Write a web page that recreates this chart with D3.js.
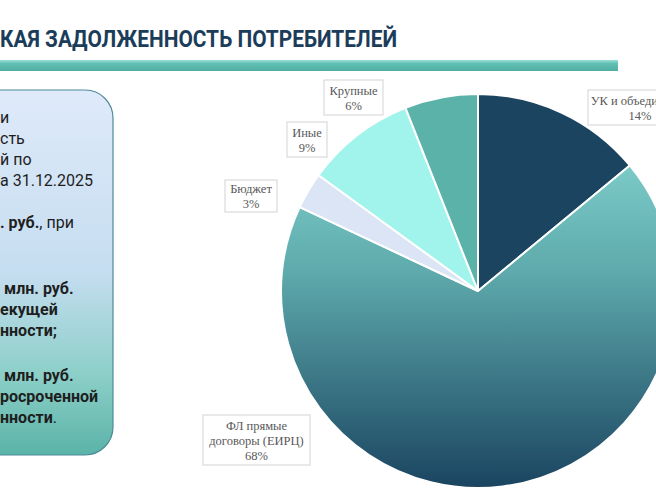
<!DOCTYPE html>
<html lang="ru">
<head>
<meta charset="UTF-8">
<script src="https://d3js.org/d3.v7.min.js"></script>
<title>Задолженность потребителей</title>
<style>
  body { margin: 0; background: #fff; }
</style>
</head>
<body>
<script>
// pie data, clockwise from 12 o'clock
var categories = ["УК и объединения", "ФЛ прямые договоры (ЕИРЦ)", "Бюджет", "Иные", "Крупные"];
var shares = [14, 68, 3, 9, 6];
var sliceColors = ["#1a4460", "url(#flGrad)", "#dce5f6", "#a0f4ec", "#5ab2a9"];

// label box text lines (visible part of each)
var labelLines = [
  ["УК и объединения", "14%"],
  ["ФЛ прямые", "договоры (ЕИРЦ)", "68%"],
  ["Бюджет", "3%"],
  ["Иные", "9%"],
  ["Крупные", "6%"]
];

// text in the left panel (slide is cropped, only line tails are visible)
// paragraphs -> lines -> [text, bold]
var panelParas = [
  [
    [["и", false]],
    [["сть", false]],
    [["й по", false]],
    [["а 31.12.2025", false]],
    [],
    [[". руб.", true], [", при", false]],
    []
  ],
  [
    [[" млн. руб.", true]],
    [["екущей", true]],
    [["нности;", true]]
  ],
  [
    [[" млн. руб.", true]],
    [["росроченной", true]],
    [["нности", true], [".", false]]
  ]
];

var W = 656, H = 493;
var svg = d3.select("body").append("svg").attr("width", W).attr("height", H);
var defs = svg.append("defs");

var cx = 478, cy = 291, r = 197;

var fl = defs.append("linearGradient").attr("id", "flGrad")
  .attr("gradientUnits", "userSpaceOnUse")
  .attr("x1", 0).attr("y1", -r).attr("x2", 0).attr("y2", r);
fl.append("stop").attr("offset", "0%").attr("stop-color", "#8ee0da");
fl.append("stop").attr("offset", "45%").attr("stop-color", "#5eaaac");
fl.append("stop").attr("offset", "100%").attr("stop-color", "#1a4460");

var pg = defs.append("linearGradient").attr("id", "panelGrad")
  .attr("x1", 0).attr("y1", 0).attr("x2", 0).attr("y2", 1);
pg.append("stop").attr("offset", "0%").attr("stop-color", "#dfeafa");
pg.append("stop").attr("offset", "50%").attr("stop-color", "#c5ddf0");
pg.append("stop").attr("offset", "78%").attr("stop-color", "#8ccfc8");
pg.append("stop").attr("offset", "100%").attr("stop-color", "#5bb3a7");

var bar = defs.append("linearGradient").attr("id", "barGrad")
  .attr("x1", 0).attr("y1", 0).attr("x2", 0).attr("y2", 1);
bar.append("stop").attr("offset", "0%").attr("stop-color", "#9ee0d8");
bar.append("stop").attr("offset", "30%").attr("stop-color", "#63c2b6");
bar.append("stop").attr("offset", "100%").attr("stop-color", "#4fada2");

// title
svg.append("text")
  .attr("x", 0).attr("y", 47)
  .attr("textLength", 397).attr("lengthAdjust", "spacingAndGlyphs")
  .style("font-family", "Roboto, sans-serif").style("font-weight", 700)
  .style("font-size", "24px").style("fill", "#1b3d5a")
  .text("КАЯ ЗАДОЛЖЕННОСТЬ ПОТРЕБИТЕЛЕЙ");

svg.append("rect").attr("x", -2).attr("y", 60).attr("width", 620).attr("height", 11)
  .attr("fill", "url(#barGrad)");

// left panel
svg.append("rect").attr("x", -40).attr("y", 90).attr("width", 153).attr("height", 365)
  .attr("rx", 28).attr("fill", "url(#panelGrad)")
  .attr("stroke", "#4d8a98").attr("stroke-width", 1.2);

var lineH = 21, paraGap = 24, y = 123 - lineH;
panelParas.forEach(function(para, p) {
  if (p > 0) y += paraGap;
  para.forEach(function(segs) {
    y += lineH;
    if (!segs.length) return;
    var t = svg.append("text").attr("x", 0).attr("y", y)
      .style("font-family", "Roboto, sans-serif").style("font-size", "16px")
      .style("fill", "#1e1e1e").attr("xml:space", "preserve");
    segs.forEach(function(s) {
      t.append("tspan").style("font-weight", s[1] ? 700 : 400).text(s[0]);
    });
  });
});

// pie
var pie = d3.pie().sort(null).value(function(d) { return d; });
var arc = d3.arc().innerRadius(0).outerRadius(r);
var g = svg.append("g").attr("transform", "translate(" + cx + "," + cy + ")");
g.selectAll("path").data(pie(shares)).join("path")
  .attr("d", arc)
  .attr("fill", function(d, i) { return sliceColors[i]; })
  .attr("stroke", "#fff").attr("stroke-width", 2).attr("stroke-linejoin", "round");

// data labels (boxes placed like the original chart)
var labelBoxes = [
  { x: 588, y: 90, w: 104, h: 35 },
  { x: 203, y: 415, w: 107, h: 50 },
  { x: 225, y: 180, w: 52, h: 32 },
  { x: 287, y: 122, w: 40, h: 35 },
  { x: 324, y: 80, w: 59, h: 35 }
];
labelLines.forEach(function(lines, i) {
  var b = labelBoxes[i];
  var lg = svg.append("g");
  lg.append("rect").attr("x", b.x).attr("y", b.y).attr("width", b.w).attr("height", b.h)
    .attr("fill", "#fff").attr("stroke", "#d3d3d3").attr("stroke-width", 1);
  var lh = 15;
  var y0 = b.y + b.h / 2 - (lines.length - 1) * lh / 2 + 4.5;
  lines.forEach(function(l, k) {
    lg.append("text").attr("x", b.x + b.w / 2).attr("y", y0 + k * lh)
      .attr("text-anchor", "middle")
      .style("font-family", "'Liberation Serif', 'Times New Roman', serif")
      .style("font-size", "12.5px").style("fill", "#595959")
      .text(l);
  });
});
</script>
</body>
</html>
